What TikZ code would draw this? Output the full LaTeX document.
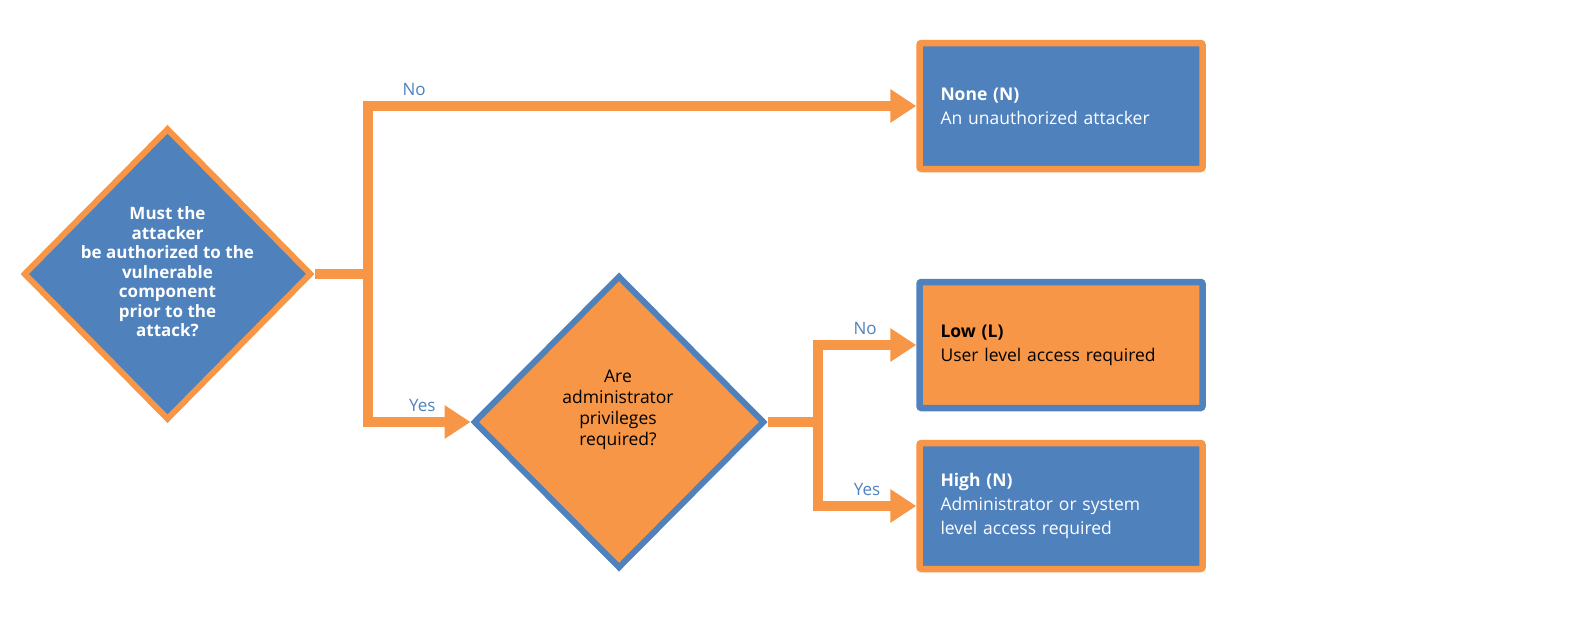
\documentclass[tikz,border=0pt]{standalone}
\usepackage{fontspec}
\setmainfont{Open Sans}
\usetikzlibrary{arrows.meta,shapes.geometric}
\definecolor{oblue}{HTML}{4F81BD}
\definecolor{oorange}{HTML}{F79646}
\tikzset{
  dia/.style={diamond, aspect=1, inner sep=0pt, line width=6pt},
  bluedia/.style={dia, draw=oorange, fill=oblue, minimum width=288pt, minimum height=292pt},
  orangedia/.style={dia, draw=oblue, fill=oorange, minimum width=291pt, minimum height=293pt},
  box/.style={rectangle, rounded corners=2pt, line width=6.5pt, minimum width=283pt, minimum height=126pt, text width=241pt, align=left, inner sep=0pt, font=\fontsize{17.5}{24}\selectfont},
  bluebox/.style={box, draw=oorange, fill=oblue, text=white},
  orangebox/.style={box, draw=oblue, fill=oorange, text=black},
  conn/.style={draw=oorange, line width=10pt},
  arr/.style={conn, -{Triangle[length=26pt,width=32pt]}},
  lbl/.style={text=oblue, font=\fontsize{17}{20}\selectfont, inner sep=2pt},
}
\begin{document}
\begin{tikzpicture}[x=1pt,y=-1pt]
\useasboundingbox (0,0) rectangle (1574,621);
\fill[white] (0,0) rectangle (1574,621);
% diamonds
\node[bluedia] (q1) at (167.5,274) {};
\node[text=white, align=center, font=\bfseries\fontsize{17}{19.5}\selectfont] at (167.5,272) {Must the\\attacker\\be authorized to the\\vulnerable\\component\\prior to the\\attack?};
\node[orangedia] (q2) at (619,422) {};
\node[text=black, align=center, font=\fontsize{17.5}{21}\selectfont] at (618,410) {Are\\administrator\\privileges\\required?};
% boxes
\node[bluebox] (none) at (1061,106) {\textbf{None (N)}\\An unauthorized attacker};
\node[orangebox] (low) at (1061,345) {\textbf{Low (L)}\\User level access required};
\node[bluebox] (high) at (1061,506) {\textbf{High (N)}\\Administrator or system\\level access required};
% junctions
\coordinate (j1) at (368,274);
\coordinate (j2) at (818,422);
% connectors
\draw[conn] (q1.east) -- (j1);
\draw[arr] (j1) |- node[lbl, pos=0.542, above=3pt] {No} (none.west);
\draw[arr] (j1) |- node[lbl, pos=0.765, above=3pt] {Yes} (q2.west);
\draw[conn] (q2.east) -- (j2);
\draw[arr] (j2) |- node[lbl, pos=0.74, above=3pt] {No} (low.west);
\draw[arr] (j2) |- node[lbl, pos=0.75, above=3pt] {Yes} (high.west);
\end{tikzpicture}
\end{document}
